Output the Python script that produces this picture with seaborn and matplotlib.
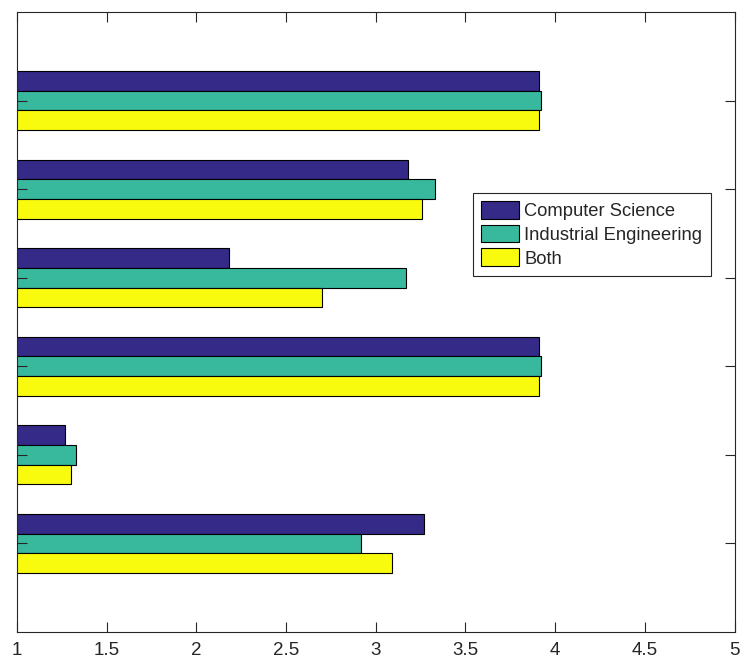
import matplotlib
matplotlib.use("Agg")
import matplotlib.pyplot as plt
from matplotlib.ticker import FuncFormatter, MultipleLocator
import numpy as np
import pandas as pd
import seaborn as sns

# Scores per question group, listed from the top row down
groups = [1, 2, 3, 4, 5, 6]
computer_science = [3.91, 3.18, 2.18, 3.91, 1.27, 3.27]
industrial_engineering = [3.92, 3.33, 3.17, 3.92, 1.33, 2.92]
both = [3.91, 3.26, 2.70, 3.91, 1.30, 3.09]

series_names = ["Computer Science", "Industrial Engineering", "Both"]
series_values = [computer_science, industrial_engineering, both]
palette = ["#352A87", "#38B99E", "#F9FB0E"]

rows = []
for name, vals in zip(series_names, series_values):
    for g, v in zip(groups, vals):
        rows.append({"group": g, "score": v, "series": name})
df = pd.DataFrame(rows)

sns.set_theme(style="white")
plt.rcParams["font.family"] = ["Liberation Sans", "DejaVu Sans"]

fig = plt.figure(figsize=(7.44, 6.61), dpi=100)
ax = fig.add_axes([17 / 744, 29 / 661, 717.5 / 744, 620 / 661])

sns.barplot(
    data=df, x="score", y="group", hue="series", hue_order=series_names,
    palette=palette, saturation=1, orient="h", native_scale=True, width=0.667,
    errorbar=None, edgecolor="black", linewidth=0.8, ax=ax,
)

ax.set_xlim(1, 5)
ax.set_ylim(7, 0)
ax.set_axisbelow(False)
ax.xaxis.set_major_locator(MultipleLocator(0.5))
ax.xaxis.set_major_formatter(FuncFormatter(lambda v, p: f"{v:g}"))
ax.set_yticks(groups)
ax.set_yticklabels([])
ax.set_xlabel("")
ax.set_ylabel("")
ax.tick_params(axis="both", direction="in", length=7, width=0.8, color="#262626",
               top=True, right=True, bottom=True, left=True,
               labelsize=13.5, labelcolor="#262626", pad=7)
for s in ax.spines.values():
    s.set_visible(True)
    s.set_color("#262626")
    s.set_linewidth(0.8)

leg = ax.legend(
    loc="upper left", bbox_to_anchor=((473 - 17) / 717.5, (632 - 193) / 620),
    borderaxespad=0, fontsize=13.2, frameon=True, fancybox=False,
    edgecolor="#262626", framealpha=1, handlelength=2.05, handleheight=1.1,
    handletextpad=0.3, labelspacing=0.25, borderpad=0.45, title=None,
)
leg.get_frame().set_linewidth(0.8)

fig.savefig("out.png", dpi=100)
